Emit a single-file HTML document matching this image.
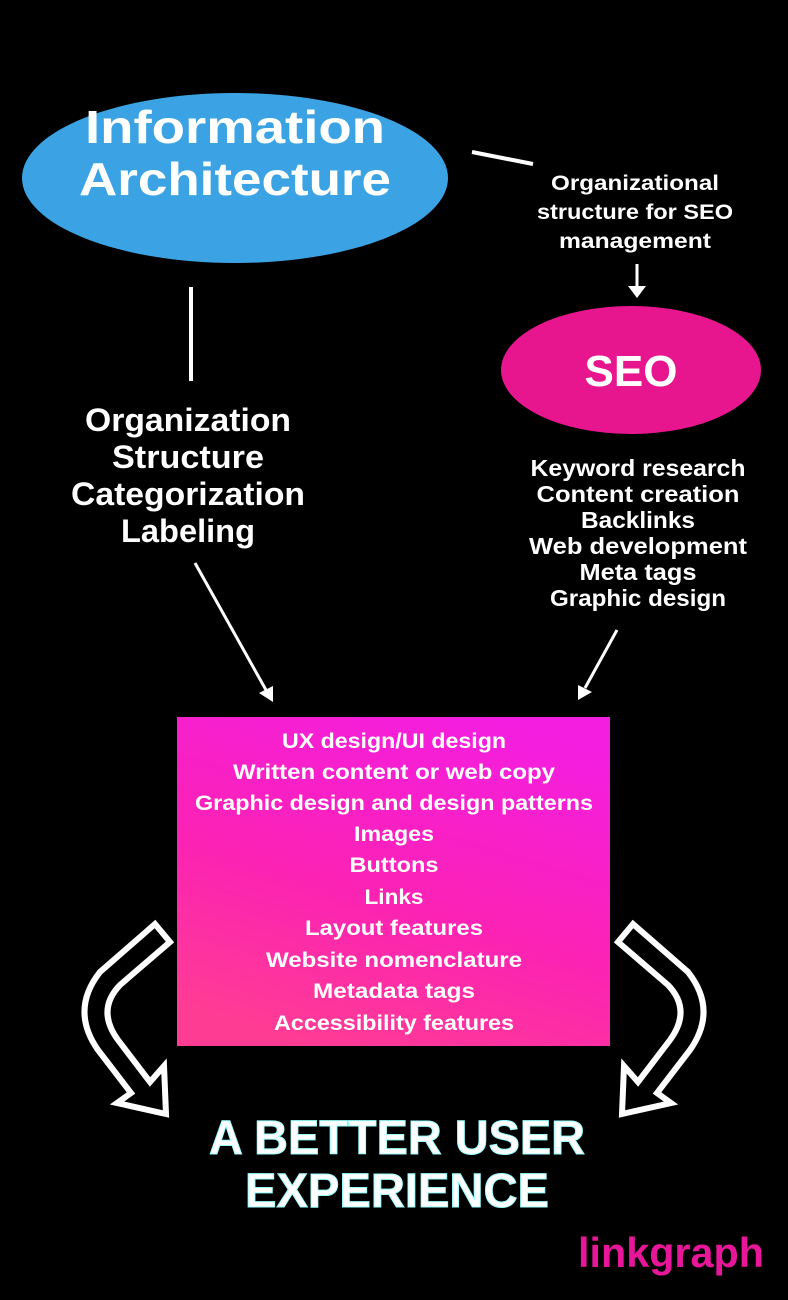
<!DOCTYPE html>
<html><head><meta charset="utf-8"><style>
html,body{margin:0;padding:0;background:#000;}
svg{display:block;}
text{font-family:"Liberation Sans",sans-serif;font-weight:bold;fill:#fff;text-anchor:middle;}
</style></head><body>
<svg width="788" height="1300" viewBox="0 0 788 1300" xmlns="http://www.w3.org/2000/svg">
<defs>
<linearGradient id="g" x1="0.7" y1="0" x2="0.3" y2="1">
<stop offset="0" stop-color="#f41ee0"/>
<stop offset="0.55" stop-color="#fb22b4"/>
<stop offset="1" stop-color="#ff3c94"/>
</linearGradient>
</defs>
<rect width="788" height="1300" fill="#000"/>
<ellipse cx="235" cy="178" rx="213" ry="85" fill="#3ba3e3"/>
<text x="235" y="143" font-size="46" textLength="300" lengthAdjust="spacingAndGlyphs">Information</text>
<text x="235" y="195" font-size="46" textLength="312" lengthAdjust="spacingAndGlyphs">Architecture</text>
<line x1="472" y1="152" x2="533" y2="164" stroke="#fff" stroke-width="4"/>
<text x="635" y="190" font-size="21" textLength="168" lengthAdjust="spacingAndGlyphs">Organizational</text>
<text x="635" y="219" font-size="21" textLength="196" lengthAdjust="spacingAndGlyphs">structure for SEO</text>
<text x="635" y="248" font-size="21" textLength="152" lengthAdjust="spacingAndGlyphs">management</text>
<line x1="637" y1="264" x2="637" y2="288" stroke="#fff" stroke-width="3"/>
<polygon points="628,286 646,286 637,298" fill="#fff"/>
<ellipse cx="631" cy="370" rx="130" ry="64" fill="#e8168e"/>
<text x="631" y="386" font-size="44">SEO</text>
<line x1="191" y1="287" x2="191" y2="381" stroke="#fff" stroke-width="4"/>
<text x="188" y="431" font-size="32" textLength="206" lengthAdjust="spacingAndGlyphs">Organization</text>
<text x="188" y="468" font-size="32" textLength="152" lengthAdjust="spacingAndGlyphs">Structure</text>
<text x="188" y="505" font-size="32" textLength="234" lengthAdjust="spacingAndGlyphs">Categorization</text>
<text x="188" y="542" font-size="32" textLength="134" lengthAdjust="spacingAndGlyphs">Labeling</text>
<g font-size="23">
<text x="638" y="476" textLength="215" lengthAdjust="spacingAndGlyphs">Keyword research</text>
<text x="638" y="502" textLength="203" lengthAdjust="spacingAndGlyphs">Content creation</text>
<text x="638" y="528" textLength="114" lengthAdjust="spacingAndGlyphs">Backlinks</text>
<text x="638" y="554" textLength="218" lengthAdjust="spacingAndGlyphs">Web development</text>
<text x="638" y="580" textLength="117" lengthAdjust="spacingAndGlyphs">Meta tags</text>
<text x="638" y="606" textLength="176" lengthAdjust="spacingAndGlyphs">Graphic design</text>
</g>
<line x1="195" y1="563" x2="266" y2="690" stroke="#fff" stroke-width="3"/>
<polygon points="259,693 273,686 273,702" fill="#fff"/>
<line x1="617" y1="630" x2="585" y2="688" stroke="#fff" stroke-width="3"/>
<polygon points="578,685 592,692 578,700" fill="#fff"/>
<rect x="177" y="717" width="433" height="329" fill="url(#g)"/>
<g font-size="21">
<text x="394" y="748" textLength="224" lengthAdjust="spacingAndGlyphs">UX design/UI design</text>
<text x="394" y="779" textLength="322" lengthAdjust="spacingAndGlyphs">Written content or web copy</text>
<text x="394" y="810" textLength="398" lengthAdjust="spacingAndGlyphs">Graphic design and design patterns</text>
<text x="394" y="841" textLength="80" lengthAdjust="spacingAndGlyphs">Images</text>
<text x="394" y="872" textLength="89" lengthAdjust="spacingAndGlyphs">Buttons</text>
<text x="394" y="904" textLength="59" lengthAdjust="spacingAndGlyphs">Links</text>
<text x="394" y="935" textLength="178" lengthAdjust="spacingAndGlyphs">Layout features</text>
<text x="394" y="967" textLength="256" lengthAdjust="spacingAndGlyphs">Website nomenclature</text>
<text x="394" y="998" textLength="162" lengthAdjust="spacingAndGlyphs">Metadata tags</text>
<text x="394" y="1030" textLength="240" lengthAdjust="spacingAndGlyphs">Accessibility features</text>
</g>
<g fill="none" stroke="#fff" stroke-width="6" stroke-linejoin="miter">
<path d="M155,924 L170,942 L120,985 Q96,1010 118,1040 L150,1082 L164,1066 L166,1114 L117,1103 L131,1093 L98,1050 Q70,1010 100,972 Z"/>
<path d="M633,924 L618,942 L668,985 Q692,1010 670,1040 L638,1082 L624,1066 L622,1114 L671,1103 L657,1093 L690,1050 Q718,1010 688,972 Z"/>
</g>
<text x="397" y="1154" font-size="48" stroke="#9ff" stroke-width="1" textLength="376" lengthAdjust="spacingAndGlyphs">A BETTER USER</text>
<text x="397" y="1207" font-size="48" stroke="#9ff" stroke-width="1" textLength="304" lengthAdjust="spacingAndGlyphs">EXPERIENCE</text>
<text x="671" y="1267" font-size="42" style="fill:#e8179a;font-weight:bold" textLength="186" lengthAdjust="spacingAndGlyphs">linkgraph</text>
</svg>
</body></html>
